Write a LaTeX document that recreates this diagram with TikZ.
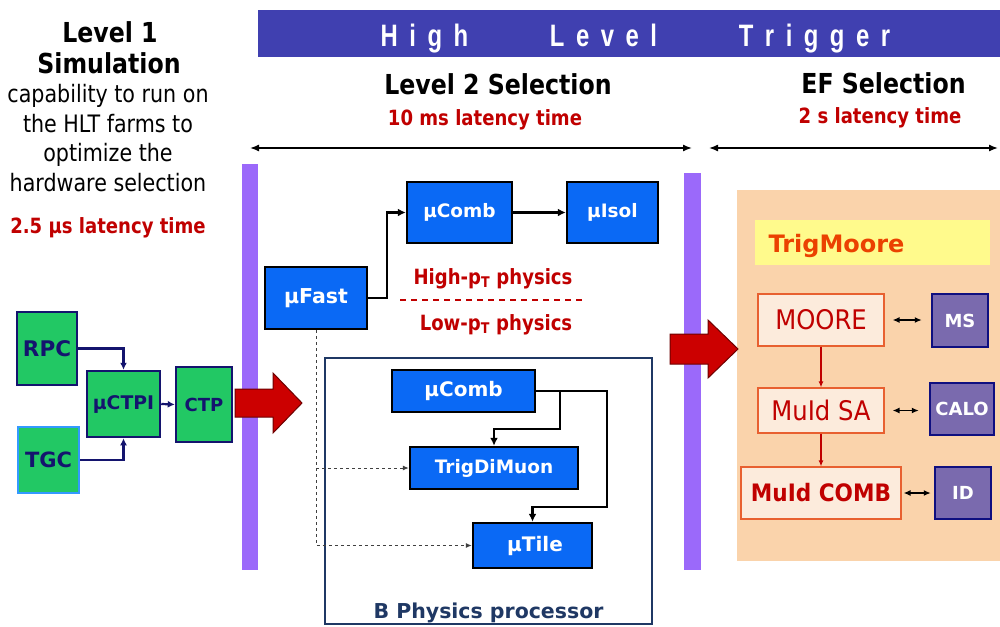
\documentclass[tikz,border=0pt]{standalone}
\usepackage{fontspec}
\setmainfont{DejaVu Sans}
\newfontfamily\hfont{DejaVu Sans}[FakeStretch=0.86]
\newfontfamily\efont{DejaVu Sans}[FakeStretch=0.9]
\newfontfamily\bannerfont{Liberation Sans}[FakeStretch=0.77]
\usetikzlibrary{arrows.meta,calc}
\definecolor{banner}{RGB}{64,64,176}
\definecolor{barpurple}{RGB}{155,105,250}
\definecolor{lgreen}{RGB}{34,200,100}
\definecolor{navy}{RGB}{20,20,110}
\definecolor{tgcblue}{RGB}{51,153,255}
\definecolor{mblue}{RGB}{10,105,245}
\definecolor{txtred}{RGB}{192,0,0}
\definecolor{arrowred}{RGB}{204,0,0}
\definecolor{darkred}{RGB}{110,0,0}
\definecolor{bnavy}{RGB}{31,56,100}
\definecolor{peach}{RGB}{250,211,171}
\definecolor{lyellow}{RGB}{255,250,140}
\definecolor{tmorange}{RGB}{235,65,0}
\definecolor{efill}{RGB}{252,235,220}
\definecolor{eforange}{RGB}{232,96,48}
\definecolor{detfill}{RGB}{122,106,174}
\definecolor{detnavy}{RGB}{15,15,128}
\newcommand{\fsz}[1]{\fontsize{#1}{#1}\selectfont}
\newcommand{\lsp}{\hspace{11.5pt}}
\begin{document}
\begin{tikzpicture}[x=1pt,y=-1pt,
  greenbox/.style={draw=navy, line width=2.5pt, fill=lgreen, text=navy, inner sep=0pt, font=\bfseries},
  bluebox/.style={draw=black, line width=2.5pt, fill=mblue, text=white, inner sep=0pt, font=\bfseries},
  efbox/.style={draw=eforange, line width=1.2pt, fill=efill, text=txtred, inner sep=0pt},
  detbox/.style={draw=detnavy, line width=2.5pt, fill=detfill, text=white, inner sep=0pt, font=\bfseries\fsz{18}},
  gconn/.style={draw=navy, line width=2.2pt, -{Latex[length=7pt,width=7pt]}},
  bconn/.style={draw=black, line width=2.2pt, -{Latex[length=8pt,width=8pt]}},
  dconn/.style={draw=black!75, line width=0.9pt, dash pattern=on 3pt off 3pt, -{Latex[length=6pt,width=5pt]}},
  dbl/.style={draw=black, line width=1.4pt, {Latex[length=9pt,width=7pt]}-{Latex[length=9pt,width=7pt]}},
  smalldbl/.style={draw=black, line width=1.3pt, {Latex[length=7pt,width=6pt]}-{Latex[length=7pt,width=6pt]}},
  rconn/.style={draw=txtred, line width=1.6pt, -{Latex[length=6pt,width=5pt]}},
  bigarrow/.style={fill=arrowred, draw=darkred, line width=1pt}
]
\useasboundingbox (0,0) rectangle (1000,626);
\fill[white] (0,0) rectangle (1000,626);

% banner
\fill[banner] (258,10) rectangle (1000,57);
\node[anchor=base, text=white, font=\bannerfont\bfseries\fsz{31}] (hHigh) at (424.5,47) {H\lsp i\lsp g\lsp h};
\node[anchor=base, text=white, font=\bannerfont\bfseries\fsz{31}] (hLevel) at (603.5,47) {L\lsp e\lsp v\lsp e\lsp l};
\node[anchor=base, text=white, font=\bannerfont\bfseries\fsz{31}] (hTrigger) at (814.5,47) {T\lsp r\lsp i\lsp g\lsp g\lsp e\lsp r};

% left text
\node[anchor=base, font=\hfont\bfseries\fsz{27.5}] (l1a) at (110,42) {Level 1};
\node[anchor=base, font=\hfont\bfseries\fsz{27.5}] (l1b) at (109,74) {Simulation};
\node[anchor=base, font=\hfont\fsz{24}] (t1) at (108,102) {capability to run on};
\node[anchor=base, font=\hfont\fsz{24}] (t2) at (108,132) {the HLT farms to};
\node[anchor=base, font=\hfont\fsz{24}] (t3) at (108,161) {optimize the};
\node[anchor=base, font=\hfont\fsz{24}] (t4) at (108,191) {hardware selection};
\node[anchor=base, text=txtred, font=\hfont\bfseries\fsz{21}] (l1lat) at (108,233) {2.5 μs latency time};

% headings
\node[anchor=base, font=\hfont\bfseries\fsz{27.5}] (l2h) at (498,94) {Level 2 Selection};
\node[anchor=base, text=txtred, font=\hfont\bfseries\fsz{21}] (l2lat) at (485,125) {10 ms latency time};
\node[anchor=base, font=\hfont\bfseries\fsz{27.5}] (efh) at (883.5,93) {EF Selection};
\node[anchor=base, text=txtred, font=\hfont\bfseries\fsz{21}] (eflat) at (880,123) {2 s latency time};

\coordinate (a1l) at (250,148);
\coordinate (a1r) at (692,148);
\coordinate (a2l) at (709,148);
\coordinate (a2r) at (998,148);
\draw[dbl] (a1l) -- (a1r);
\draw[dbl] (a2l) -- (a2r);

% purple bars
\fill[barpurple] (242,164) rectangle (258,570);
\fill[barpurple] (684,173) rectangle (701,570);

% EF background
\fill[peach] (737,190) rectangle (1000,561);
\fill[lyellow] (755,220) rectangle (990,265);
\node[anchor=base west, text=tmorange, font=\bfseries\fsz{24}] (tm) at (765,252) {TrigMoore};

% Level 1 boxes
\node[greenbox, minimum width=60pt, minimum height=73pt, font=\bfseries\fsz{21.5}] (rpc) at (47,348.5) {RPC};
\node[greenbox, draw=tgcblue, minimum width=61pt, minimum height=66pt, font=\bfseries\fsz{21}] (tgc) at (48.5,460) {TGC};
\node[greenbox, minimum width=73pt, minimum height=66pt, font=\bfseries\fsz{18.8}] (uctpi) at (123.5,404) {μCTPI};
\node[greenbox, minimum width=56pt, minimum height=75pt, font=\bfseries\fsz{18}] (ctp) at (204,404.5) {CTP};
\draw[gconn] (rpc.east) -| (uctpi.north);
\draw[gconn] (tgc.east) -| (uctpi.south);
\draw[gconn] (uctpi.east) -- (ctp.west);

% big red arrows
\draw[bigarrow] (235,389) -- (273,389) -- (273,373) -- (302,403) -- (273,433) -- (273,417) -- (235,417) -- cycle;
\draw[bigarrow] (670,334) -- (708,334) -- (708,320) -- (738,349) -- (708,378) -- (708,364) -- (670,364) -- cycle;

% Level 2 boxes
\node[bluebox, minimum width=102pt, minimum height=62pt, font=\bfseries\fsz{20.5}] (ufast) at (316,298) {μFast};
\node[bluebox, minimum width=105pt, minimum height=61pt, font=\bfseries\fsz{18.5}] (ucomb) at (459.5,212.5) {μComb};
\node[bluebox, minimum width=91pt, minimum height=61pt, font=\bfseries\fsz{18.5}] (uisol) at (612.5,212.5) {μIsol};
\draw[bconn] (ufast.east) -- ++(19,0) |- (ucomb.west);
\draw[bconn] (ucomb.east) -- (uisol.west);

\node[anchor=base, text=txtred, font=\hfont\bfseries\fsz{21}] (hipt) at (493,284) {High-p\textsubscript{T} physics};
\coordinate (dl) at (400,300);
\coordinate (dr) at (585,300);
\draw[txtred, line width=1.4pt, dash pattern=on 6pt off 5pt] (dl) -- (dr);
\node[anchor=base, text=txtred, font=\hfont\bfseries\fsz{21}] (lopt) at (496,330) {Low-p\textsubscript{T} physics};

% B physics processor
\node[draw=bnavy, line width=2pt, minimum width=327pt, minimum height=266pt, inner sep=0pt] (bbox) at (488.5,491) {};
\node[anchor=base, text=bnavy, font=\bfseries\fsz{20.5}] (blabel) at (488.5,618) {B Physics processor};
\node[bluebox, minimum width=143pt, minimum height=42pt, font=\bfseries\fsz{20}] (ucomb2) at (463.5,391) {μComb};
\node[bluebox, minimum width=168pt, minimum height=42pt, font=\bfseries\fsz{18.5}] (tdm) at (494,468) {TrigDiMuon};
\node[bluebox, minimum width=119pt, minimum height=45pt, font=\bfseries\fsz{20}] (utile) at (532.5,545.5) {\hspace{5pt}μTile};
\coordinate (c1) at (607,507);
\coordinate (c2) at (560,429);
\draw[bconn] (ucomb2.east) -| (c1) -| (utile.north);
\draw[bconn] (c2 |- ucomb2.east) -- (c2) -| (tdm.north);
\draw[dconn] (ufast.south) |- (utile.west);
\draw[dconn] (ufast.south |- tdm.west) -- (tdm.west);

% EF boxes
\node[efbox, minimum width=126pt, minimum height=52pt, font=\efont\fsz{27}] (moore) at (821,320) {MOORE};
\node[efbox, minimum width=126pt, minimum height=45pt, font=\efont\fsz{27}] (muidsa) at (821,410.5) {MuId SA};
\node[efbox, minimum width=160pt, minimum height=52pt, font=\efont\bfseries\fsz{24}] (muidcomb) at (821,493) {MuId COMB};
\node[detbox, minimum width=56pt, minimum height=53pt] (ms) at (960,320.5) {MS};
\node[detbox, minimum width=64pt, minimum height=52pt] (calo) at (962,409) {CALO};
\node[detbox, minimum width=56pt, minimum height=52pt] (id) at (963,493) {ID};
\draw[rconn] (moore.south) -- (muidsa.north);
\draw[rconn] (muidsa.south) -- (muidcomb.north);
\draw[smalldbl, shorten <=8pt, shorten >=9pt] (moore.east) -- (ms.west |- moore.east);
\draw[smalldbl, shorten <=8pt, shorten >=10pt] (muidsa.east) -- (calo.west |- muidsa.east);
\draw[smalldbl, shorten <=2pt, shorten >=3pt] (muidcomb.east) -- (id.west |- muidcomb.east);
\end{tikzpicture}
\end{document}
